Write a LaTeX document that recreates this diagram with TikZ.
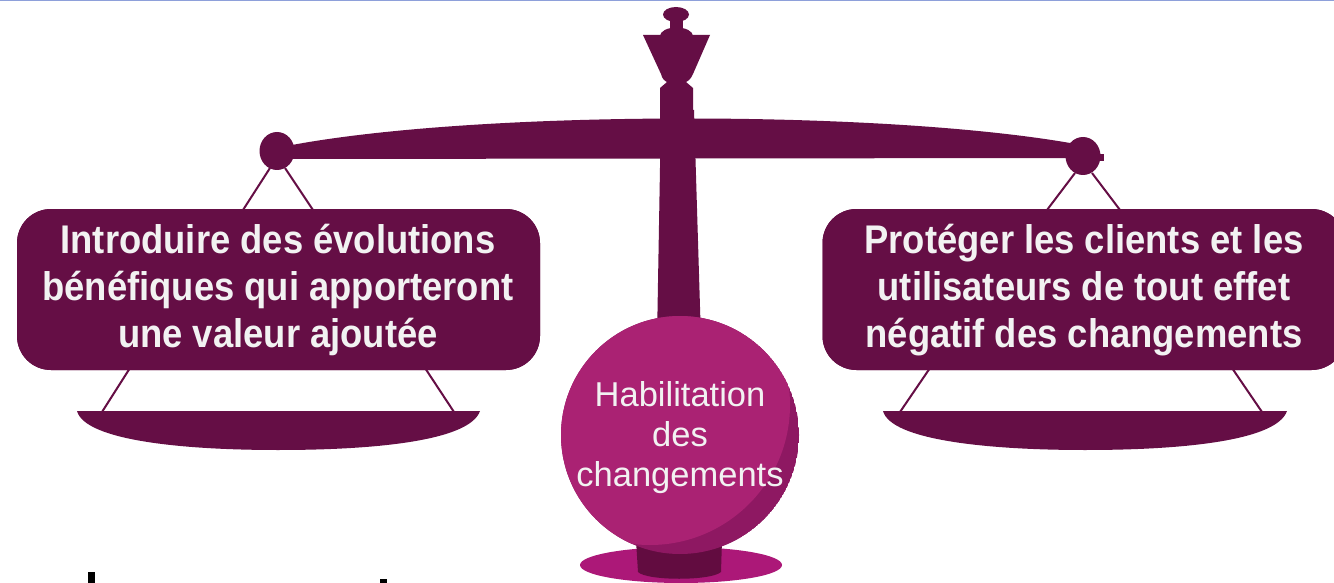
\documentclass[tikz,border=0pt]{standalone}
\usepackage{fontspec}
\usetikzlibrary{shapes.geometric}
\newfontfamily\boxfont{Liberation Sans}[FakeStretch=0.91]
\newfontfamily\ballfont{Liberation Sans}
\definecolor{plum}{HTML}{650E45}
\definecolor{orb}{HTML}{AA2273}
\definecolor{orbshade}{HTML}{8E1862}
\definecolor{standbase}{HTML}{AC1878}
\definecolor{standneck}{HTML}{620C40}
\definecolor{labelgrey}{HTML}{F2F2F2}
\definecolor{rulerblue}{HTML}{8EA0DA}
\tikzset{
  plate/.style={fill=plum, draw=none, rounded corners=34pt, minimum width=523pt,
    minimum height=161pt, inner sep=0pt},
  platetext/.style={text=labelgrey, align=center,
    font=\boxfont\bfseries\fontsize{40}{47}\selectfont},
  orbtext/.style={text=labelgrey, align=center,
    font=\ballfont\fontsize{34.5}{40}\selectfont},
  cord/.style={draw=plum, line width=2pt},
  solid plum/.style={fill=plum, draw=none},
}
\begin{document}
\begin{tikzpicture}[x=1pt,y=-1pt]
\useasboundingbox (0,0) rectangle (1334,583);
\clip (0,0) rectangle (1334,583);
\fill[white] (0,0) rectangle (1334,583);
\draw[rulerblue, line width=1.5pt] (0,0.5) -- (1334,0.5);

% pivot balls at the ends of the beam
\node[solid plum, ellipse, minimum width=35pt, minimum height=38pt, inner sep=0pt] (lball) at (277,151) {};
\node[solid plum, ellipse, minimum width=35pt, minimum height=38pt, inner sep=0pt] (rball) at (1083,156) {};
\fill[plum] (1096,154) rectangle (1104,161);

% hanging plates
\node[plate] (lplate) at (278.5,289.5) {};
\node[plate] (rplate) at (1084,289.5) {};

% cords
\coordinate (la1) at (270,168); \coordinate (la2) at (285,168);
\coordinate (lb1) at (243,210); \coordinate (lb2) at (313,210);
\coordinate (ra1) at (1075,173); \coordinate (ra2) at (1092,173);
\coordinate (rb1) at (1047,210); \coordinate (rb2) at (1120,210);
\draw[cord] (la1) -- (lb1) (la2) -- (lb2);
\draw[cord] (ra1) -- (rb1) (ra2) -- (rb2);
\coordinate (lc1) at (130,368); \coordinate (lc2) at (425,368);
\coordinate (ld1) at (102,412); \coordinate (ld2) at (454,412);
\coordinate (rc1) at (930,368); \coordinate (rc2) at (1232,368);
\coordinate (rd1) at (900,412); \coordinate (rd2) at (1262,412);
\draw[cord] (lc1) -- (ld1) (lc2) -- (ld2);
\draw[cord] (rc1) -- (rd1) (rc2) -- (rd2);

% re-draw plates on top of the cords
\node[plate] at (lplate) {};
\node[plate] at (rplate) {};

% pans
\fill[plum] (77,411) -- (480,411) .. controls (470,440) and (380,450) .. (278,450)
  .. controls (180,450) and (85,440) .. cycle;
\fill[plum] (883,411) -- (1287,411) .. controls (1277,440) and (1187,450) .. (1085,450)
  .. controls (987,450) and (891,440) .. cycle;

% beam
\fill[plum] (292,145) .. controls (480,110) and (880,110) .. (1070,143)
  -- (1069,158) -- (292,159) -- cycle;

% column
\fill[plum] (661,110) -- (694,110) -- (701,340) -- (657,340) -- cycle;

% finial
\fill[plum] (660,88) -- (667,82) -- (686,82) -- (693,88) -- (693,120) -- (660,120) -- cycle;
\fill[plum] (643,35) -- (710,35) -- (693,74) .. controls (691,79) and (688,81) .. (686,82)
  -- (667,82) .. controls (665,81) and (662,79) .. (661,74) -- cycle;
\fill[plum] (676.5,36) ellipse [x radius=16.5, y radius=8.5];
\fill[plum] (670,20) rectangle (683,30);
\fill[plum] (676,14.5) ellipse [x radius=13, y radius=7.5];

% stand under the orb
\fill[standbase] (681,565) ellipse [x radius=101, y radius=18];
\fill[standneck] (636,540) -- (722,540) -- (721,572) .. controls (711,581) and (647,581) .. (638,572) -- cycle;

% orb with its shaded side
\begin{scope}
  \clip (680,435) circle [radius=119];
  \fill[orbshade] (680,435) circle [radius=119];
  \fill[orb] (650,405) circle [radius=140];
\end{scope}

% labels
\node[platetext] (ltext) at (278,290) {Introduire des évolutions\\bénéfiques qui apporteront\\une valeur ajoutée};
\node[platetext] (rtext) at (1084,290) {Protéger les clients et les\\utilisateurs de tout effet\\négatif des changements};
\node[orbtext] (otext) at (680,438) {Habilitation\\des\\changements};

% fragments of text at the lower edge
\fill[black] (88,572) rectangle (95,583);
\fill[black] (380,579) rectangle (387,583);
\end{tikzpicture}
\end{document}
